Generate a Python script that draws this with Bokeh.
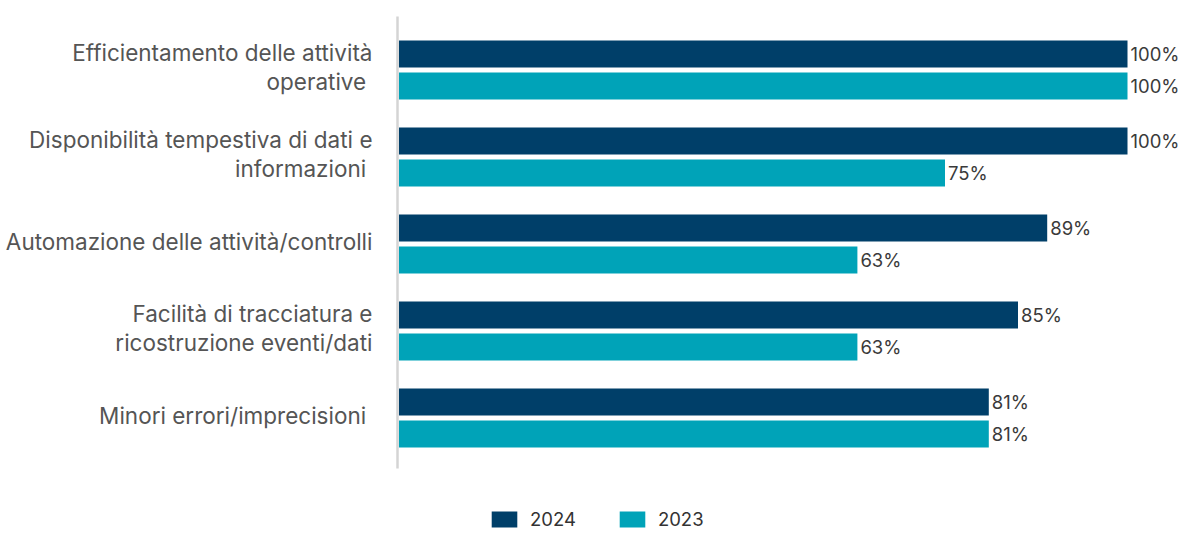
from bokeh.plotting import figure
from bokeh.models import ColumnDataSource, Range1d, Legend, LegendItem
from bokeh.core.properties import value
from bokeh.embed import file_html
from bokeh.resources import INLINE

categories = [
    "Efficientamento delle attività\noperative ",
    "Disponibilità tempestiva di dati e\ninformazioni ",
    "Automazione delle attività/controlli",
    "Facilità di tracciatura e\nricostruzione eventi/dati",
    "Minori errori/imprecisioni ",
]
values_2024 = [100, 100, 89, 85, 81]
values_2023 = [100, 75, 63, 63, 81]
series_names = ["2024", "2023"]
colors = ["#003f69", "#00a3b8"]

W, H = 1182, 531
PX = 7.3             # pixels per percentage point
X0 = 397             # frame pixel of value 0
PITCH = 87.0         # pixels per category
C0 = 69.5            # frame pixel of first category centre

idx = list(range(len(categories)))
off = 16.0 / PITCH
bh = 27.0 / PITCH

p = figure(width=W, height=H, output_backend="svg", toolbar_location=None,
           min_border=0, min_border_left=0, min_border_right=0,
           min_border_top=0, min_border_bottom=0,
           x_range=Range1d(-X0 / PX, (W - X0) / PX),
           y_range=Range1d((H - C0) / PITCH, -C0 / PITCH))
p.axis.visible = False
p.grid.visible = False
p.outline_line_color = None
p.background_fill_color = "white"
p.border_fill_color = "white"

src = ColumnDataSource(dict(
    cat=categories, idx=idx,
    y24=[i - off for i in idx], y23=[i + off for i in idx],
    v24=values_2024, v23=values_2023,
    l24=[f"{v}%" for v in values_2024], l23=[f"{v}%" for v in values_2023],
))

r24 = p.hbar(y="y24", left=0.2, right="v24", height=bh, source=src,
             fill_color=colors[0], line_color=None)
r23 = p.hbar(y="y23", left=0.2, right="v23", height=bh, source=src,
             fill_color=colors[1], line_color=None)

# axis line
p.segment(x0=[0], x1=[0], y0=[(16 - C0) / PITCH], y1=[(468 - C0) / PITCH],
          line_color="#d4d4d4", line_width=2.5)

for yk, vk, lk in (("y24", "v24", "l24"), ("y23", "v23", "l23")):
    p.text(x=vk, y=yk, text=lk, source=src, x_offset=3,
           text_font=value("Inter"), text_font_size="18.5px",
           text_color="#3a3a3a", text_align="left", text_baseline="middle")

p.text(x=0, y="idx", text="cat", source=src, x_offset=-25, y_offset=-3,
       text_font=value("Inter"), text_font_size="22.5px", text_color="#555555",
       text_align="right", text_baseline="middle", text_line_height=1.08)

legend = Legend(items=[LegendItem(label=series_names[0], renderers=[r24]),
                       LegendItem(label=series_names[1], renderers=[r23])],
                orientation="horizontal", location=(488, 1),
                glyph_width=32, glyph_height=20, label_standoff=10, spacing=40,
                label_text_font="Inter", label_text_font_size="18.5px",
                label_text_color="#333333", border_line_color=None,
                background_fill_alpha=0, padding=0, margin=0)
p.add_layout(legend)

open("out.html", "w").write(file_html(p, INLINE))
